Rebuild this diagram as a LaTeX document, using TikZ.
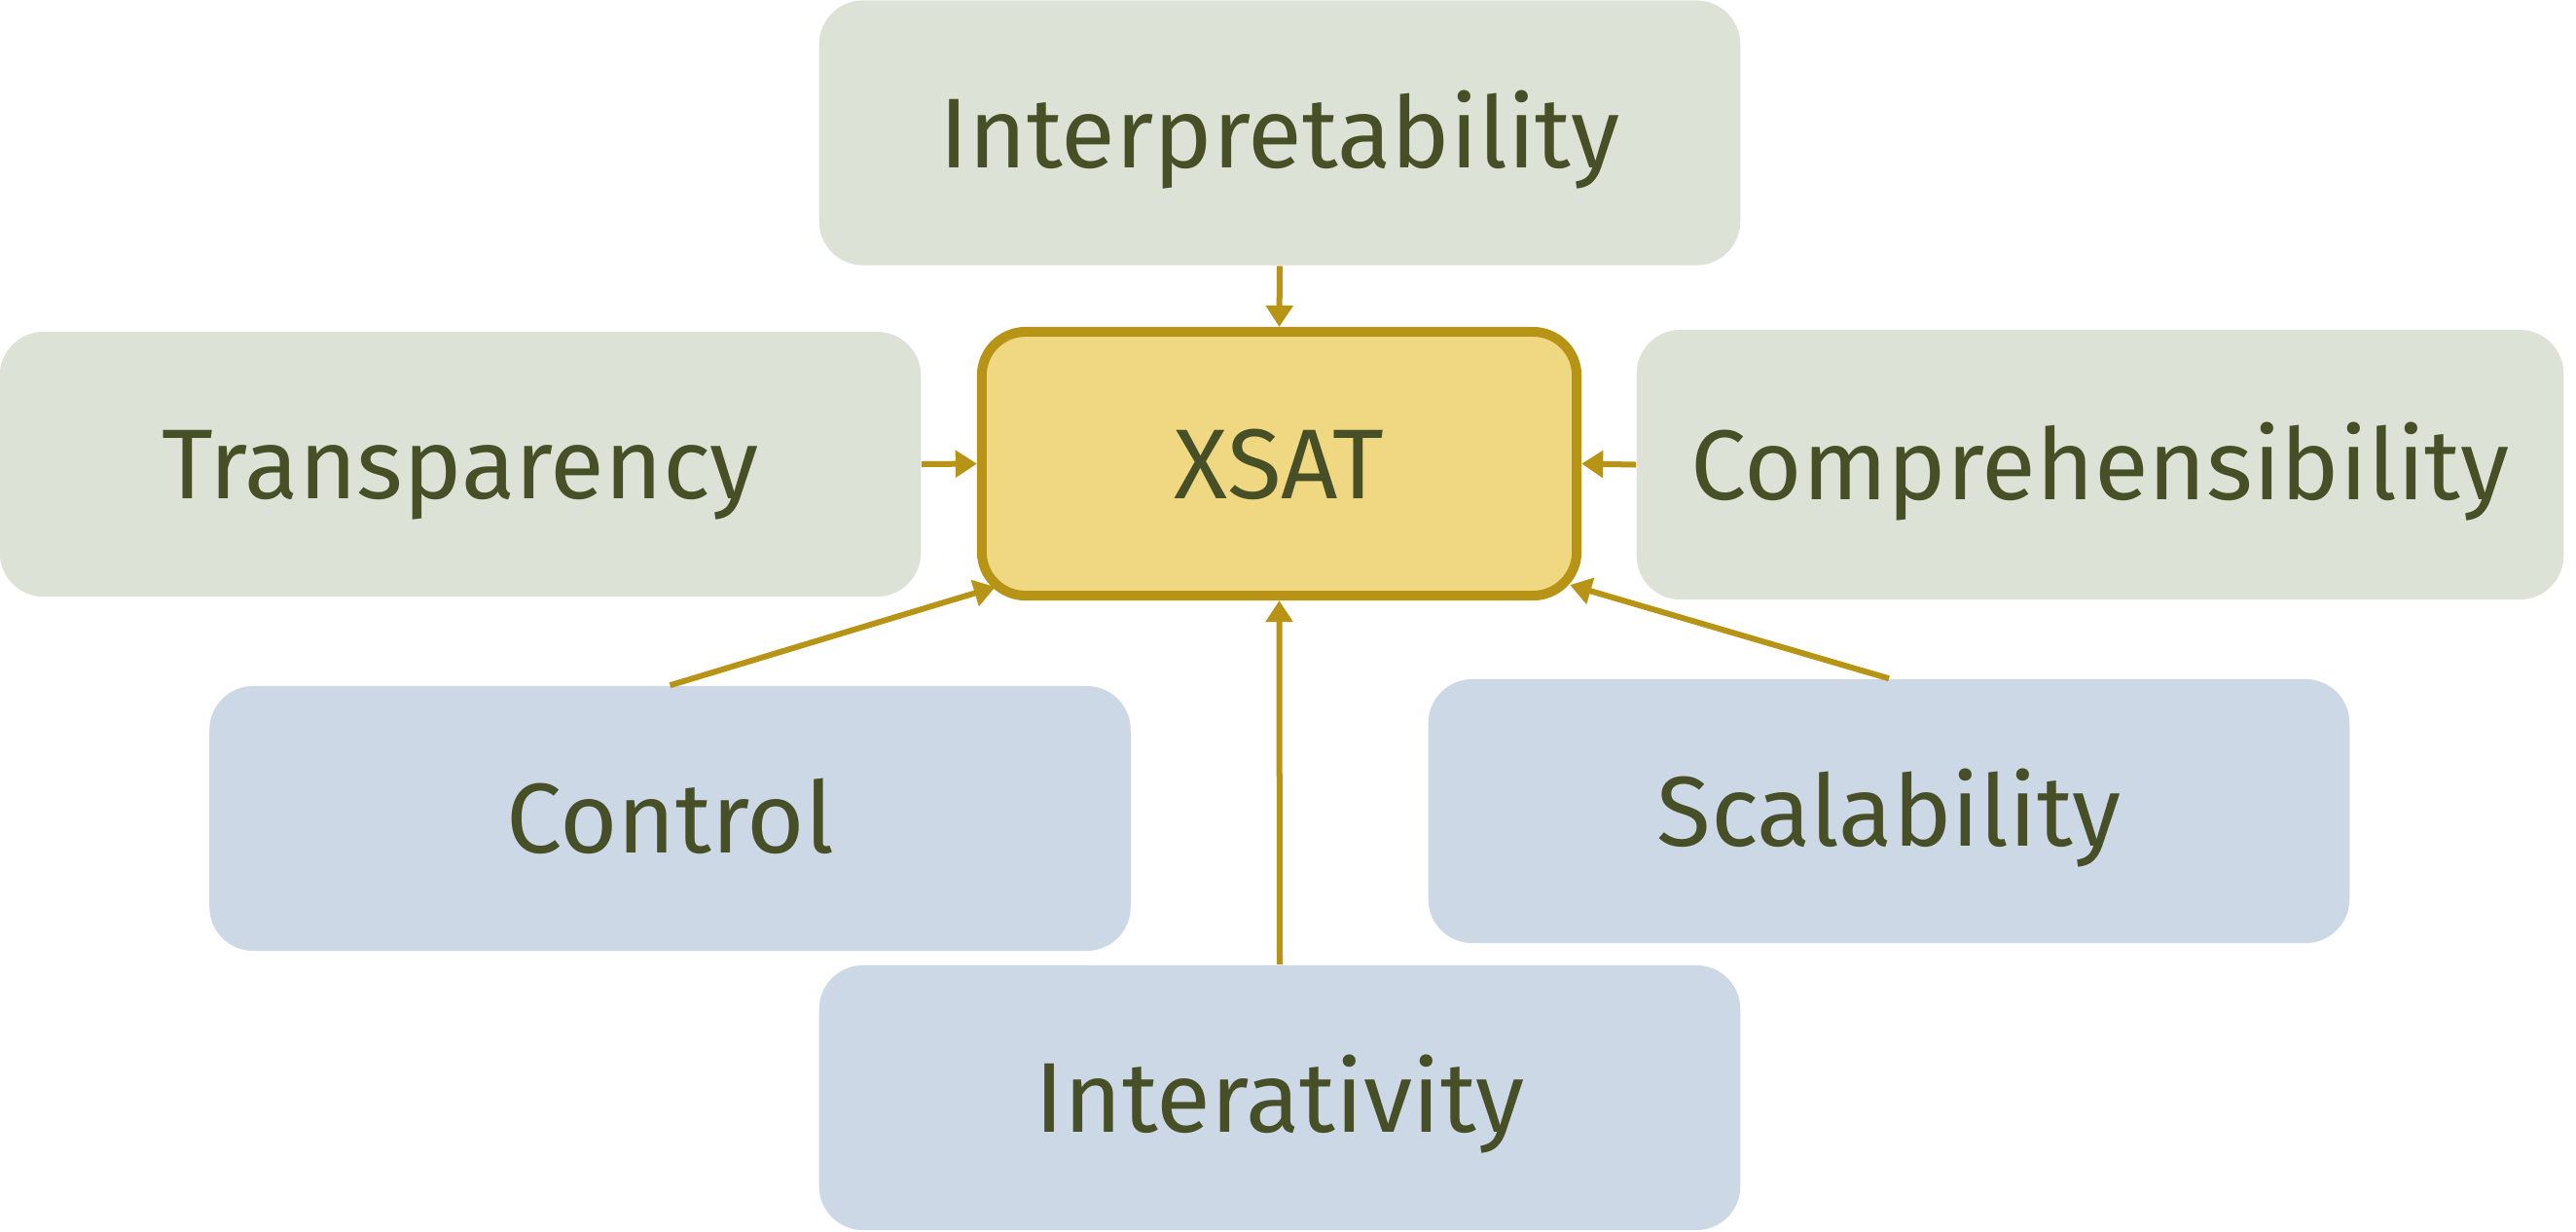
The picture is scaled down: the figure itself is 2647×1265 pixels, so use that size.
\documentclass[tikz,border=0pt]{standalone}
\usepackage{fontspec}
\setmainfont{Fira Sans}
\usetikzlibrary{arrows.meta,calc}
\definecolor{txt}{HTML}{474F27}
\definecolor{greenbox}{HTML}{DCE2D5}
\definecolor{bluebox}{HTML}{CDD8E7}
\definecolor{xfill}{HTML}{F0D882}
\definecolor{xborder}{HTML}{B89416}
\begin{document}
\begin{tikzpicture}[x=0.01cm,y=-0.01cm,
  box/.style={rounded corners=0.45cm, minimum width=9.46cm, minimum height=2.72cm, inner sep=0pt, text=txt, font=\fontsize{29pt}{35pt}\selectfont, text height=0.71cm, text depth=0pt},
  gbox/.style={box, fill=greenbox},
  bbox/.style={box, fill=bluebox},
  conn/.style={draw=xborder, line width=0.06cm, -{Triangle[length=0.22cm,width=0.27cm]}}
]
\useasboundingbox (0,0) rectangle (2647,1265);
\node[gbox] (interp) at (1315,136.5) {Interpretability};
\node[gbox] (transp) at (473,477) {Transparency};
\node[gbox, minimum width=9.52cm, minimum height=2.77cm] (comp) at (2158,477.5) {Comprehensibility};
\node[bbox] (control) at (688.5,841) {Control};
\node[bbox, minimum height=2.71cm] (scal) at (1941,833.5) {Scalability};
\node[bbox] (interact) at (1315,1128) {Interativity};
\node[box, draw=xborder, fill=xfill, line width=0.1cm, minimum width=6.11cm, minimum height=2.71cm] (xsat) at (1314.5,476.5) {XSAT};
\draw[conn] (interp.south) -- (xsat.north);
\draw[conn] (transp.east) -- (xsat.west);
\draw[conn] (comp.west) -- (xsat.east);
\draw[conn] (interact.north) -- (xsat.south);
\draw[conn] (control.north) -- ([shift={(19,-14)}]xsat.south west);
\draw[conn] (scal.north) -- ([shift={(-12,-16)}]xsat.south east);
\end{tikzpicture}
\end{document}
